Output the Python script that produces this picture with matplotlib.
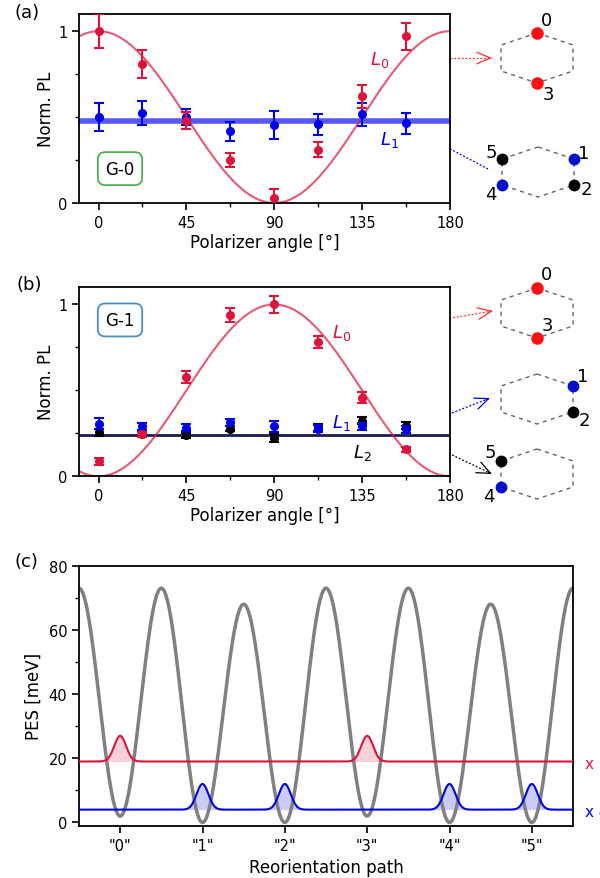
import matplotlib.pyplot as plt
import numpy as np

# ---- data (a) G-0 ----
angles = [0, 22.5, 45, 67.5, 90, 112.5, 135, 157.5]
a_L0 = [1.00, 0.81, 0.48, 0.25, 0.03, 0.31, 0.62, 0.97]
a_L0_err = [0.10, 0.08, 0.05, 0.04, 0.05, 0.045, 0.066, 0.08]
a_L1 = [0.50, 0.525, 0.50, 0.417, 0.453, 0.457, 0.516, 0.463]
a_L1_err = [0.083, 0.07, 0.045, 0.055, 0.08, 0.062, 0.068, 0.06]
a_fit_phase = 0.0      # L0 fit: cos^2(theta - phase)
a_L1_level = 0.475

# ---- data (b) G-1 ----
b_L0 = [0.087, 0.245, 0.578, 0.938, 1.00, 0.783, 0.458, 0.157]
b_L0_err = [0.02, 0.015, 0.035, 0.04, 0.05, 0.035, 0.03, 0.015]
b_L1 = [0.307, 0.29, 0.282, 0.315, 0.29, 0.278, 0.29, 0.274]
b_L1_err = [0.03, 0.02, 0.02, 0.02, 0.03, 0.02, 0.02, 0.02]
b_L2 = [0.257, 0.245, 0.238, 0.276, 0.222, 0.285, 0.323, 0.294]
b_L2_err = [0.02, 0.015, 0.015, 0.015, 0.025, 0.02, 0.02, 0.02]
b_fit_phase = 90.0
b_L12_level = 0.24

# ---- data (c) PES ----
pes_x = [-0.5, 0, 0.5, 1, 1.5, 2, 2.5, 3, 3.5, 4, 4.5, 5, 5.5]
pes_y = [73, 2, 73, 0, 68, 0, 73, 2, 73, 0, 68, 0, 73]
path_labels = ['"0"', '"1"', '"2"', '"3"', '"4"', '"5"']
red_centers = [0, 3]
red_base, red_height = 19, 8
blue_centers = [1, 2, 4, 5]
blue_base, blue_height = 4, 8
bump_sigma = 0.072

RED = "#dc143c"
BLUE = "#0000e6"

fig = plt.figure(figsize=(6, 8.79), dpi=100)
W, H = 600.0, 879.0


def box(l, t, r, b):
    return [l / W, 1 - b / H, (r - l) / W, (b - t) / H]


theta = np.linspace(-10, 180, 400)
ebkw = dict(fmt="o", ms=5.5, capsize=3.5, elinewidth=1.5, capthick=1.5)


def style_pol(ax):
    ax.set_xlim(-10, 180)
    ax.set_ylim(0, 1.1)
    ax.set_xticks([0, 45, 90, 135, 180])
    ax.set_xticks([22.5, 67.5, 112.5, 157.5], minor=True)
    ax.set_yticks([0, 1])
    ax.set_yticklabels(["0", "1"])
    ax.set_yticks([0.25, 0.5, 0.75], minor=True)
    ax.tick_params(labelsize=10.5, width=1.2, length=5)
    ax.tick_params(which="minor", width=1, length=3)
    for s in ax.spines.values():
        s.set_linewidth(1.3)
    ax.set_xlabel("Polarizer angle [°]", fontsize=12, labelpad=2)
    ax.set_ylabel("Norm. PL", fontsize=12, labelpad=2)


# (a)
ax1 = fig.add_axes(box(79, 15, 450, 204))
ax1.axhline(a_L1_level, color="#3a3aff", lw=4, alpha=0.85, zorder=1)
ax1.plot(theta, np.cos(np.radians(theta - a_fit_phase)) ** 2, color=RED, alpha=0.7, lw=1.5, zorder=2)
ax1.errorbar(angles, a_L1, yerr=a_L1_err, color=BLUE, zorder=3, **ebkw)
ax1.errorbar(angles, a_L0, yerr=a_L0_err, color=RED, zorder=4, **ebkw)
style_pol(ax1)
ax1.text(144, 0.84, "$L_0$", color=RED, fontsize=13, ha="center", va="center")
ax1.text(149, 0.37, "$L_1$", color=BLUE, fontsize=13, ha="center", va="center")
ax1.text(11, 0.2, "G-0", fontsize=12, ha="center", va="center",
         bbox=dict(boxstyle="round,pad=0.45", fc="white", ec="#4caf50", lw=1.3))

# (b)
ax2 = fig.add_axes(box(79, 288.3, 450, 477.3))
ax2.axhline(b_L12_level, color="#1c1c4f", lw=2, zorder=1)
ax2.plot(theta, np.cos(np.radians(theta - b_fit_phase)) ** 2, color=RED, alpha=0.7, lw=1.5, zorder=2)
ax2.errorbar(angles, b_L2, yerr=b_L2_err, color="black", zorder=3, **ebkw)
ax2.errorbar(angles, b_L1, yerr=b_L1_err, color=BLUE, zorder=4, **ebkw)
ax2.errorbar(angles, b_L0, yerr=b_L0_err, color=RED, zorder=5, **ebkw)
style_pol(ax2)
ax2.text(124.5, 0.84, "$L_0$", color=RED, fontsize=13, ha="center", va="center")
ax2.text(124.5, 0.315, "$L_1$", color=BLUE, fontsize=13, ha="center", va="center")
ax2.text(135, 0.14, "$L_2$", color="black", fontsize=13, ha="center", va="center")
ax2.text(11, 0.91, "G-1", fontsize=12, ha="center", va="center",
         bbox=dict(boxstyle="round,pad=0.45", fc="white", ec="#4a90c0", lw=1.3))

# (c)
ax3 = fig.add_axes(box(79, 566.7, 573, 826.7))
xs = np.linspace(-0.5, 5.5, 1200)
pes = np.zeros_like(xs)
for i in range(len(pes_x) - 1):
    m = (xs >= pes_x[i]) & (xs <= pes_x[i + 1])
    t = (xs[m] - pes_x[i]) / (pes_x[i + 1] - pes_x[i])
    pes[m] = pes_y[i] + (pes_y[i + 1] - pes_y[i]) * (1 - np.cos(np.pi * t)) / 2
ax3.plot(xs, pes, color="gray", lw=2.5, zorder=2)

red_wf = red_base + sum(red_height * np.exp(-(xs - c) ** 2 / (2 * bump_sigma ** 2)) for c in red_centers)
blue_wf = blue_base + sum(blue_height * np.exp(-(xs - c) ** 2 / (2 * bump_sigma ** 2)) for c in blue_centers)
ax3.fill_between(xs, red_base, red_wf, color=RED, alpha=0.2, lw=0)
ax3.fill_between(xs, blue_base, blue_wf, color=BLUE, alpha=0.2, lw=0)
ax3.plot(xs, red_wf, color=RED, lw=1.5, zorder=3)
ax3.plot(xs, blue_wf, color=BLUE, lw=1.5, zorder=3)
ax3.set_xlim(-0.5, 5.5)
ax3.set_ylim(-1, 80)
ax3.set_xticks(range(len(path_labels)))
ax3.set_xticklabels(path_labels)
ax3.set_yticks([0, 20, 40, 60, 80])
ax3.set_yticks([10, 30, 50, 70], minor=True)
ax3.tick_params(labelsize=10.5, width=1.2, length=5)
ax3.tick_params(which="minor", width=1, length=3)
for s in ax3.spines.values():
    s.set_linewidth(1.3)
ax3.set_xlabel("Reorientation path", fontsize=12, labelpad=4)
ax3.set_ylabel("PES [meV]", fontsize=12, labelpad=4)

# panel letters
fig.text(15 / W, 1 - 13 / H, "(a)", fontsize=13, va="center")
fig.text(17 / W, 1 - 285 / H, "(b)", fontsize=13, va="center")
fig.text(15 / W, 1 - 562 / H, "(c)", fontsize=13, va="center")
# scale factors, cut at the right edge as in the original
fig.text(585 / W, 1 - 765 / H, "x 2", color=RED, fontsize=11, va="center")
fig.text(585 / W, 1 - 813 / H, "x 4", color=BLUE, fontsize=11, va="center")

# overlay for hexagon sketches and arrows (pixel coordinates)
ov = fig.add_axes([0, 0, 1, 1], zorder=-1)
ov.set_xlim(0, W)
ov.set_ylim(H, 0)
ov.axis("off")

site_color = {0: "#ff1010", 3: "#ff1010", 1: "#0010cc", 4: "#0010cc", 2: "black", 5: "black"}


def hexagon(cx, cy, sites, offsets):
    verts = [(cx, cy - 25), (cx + 36, cy - 13), (cx + 36, cy + 13),
             (cx, cy + 25), (cx - 36, cy + 13), (cx - 36, cy - 13)]
    px = [v[0] for v in verts] + [verts[0][0]]
    py = [v[1] for v in verts] + [verts[0][1]]
    ov.plot(px, py, color="#666666", lw=1, ls=(0, (3, 3)))
    for s, (dx, dy) in zip(sites, offsets):
        x, y = verts[s]
        ov.plot(x, y, "o", color=site_color[s], ms=8 if s in (0, 3) else 7.5)
        ov.text(x + dx, y + dy, str(s), fontsize=13, ha="center", va="center")


hexagon(537, 59, [0, 3], [(10, -13), (11, 11)])
hexagon(538, 173, [1, 2, 4, 5], [(10, -6), (12, 4), (-11, 9), (-11, -7)])
hexagon(537, 314, [0, 3], [(10, -14), (10, -13)])
hexagon(537, 400, [1, 2], [(10, -10), (11, 8)])
hexagon(537, 475, [5, 4], [(-11, -9), (-12, 9)])


def arrow(x0, y0, x1, y1, c):
    ov.plot([x0, x1], [y0, y1], color=c, lw=0.9, ls=(0, (1.5, 1.5)))
    d = np.hypot(x1 - x0, y1 - y0)
    bx, by = x1 - (x1 - x0) / d * 4, y1 - (y1 - y0) / d * 4
    ov.annotate("", xy=(x1, y1), xytext=(bx, by),
                arrowprops=dict(arrowstyle="->,head_length=0.7,head_width=0.3",
                                color=c, lw=0.9, mutation_scale=14,
                                shrinkA=0, shrinkB=0))


arrow(420, 59, 492, 59, "#ff3030")
arrow(488, 170, 422, 135, BLUE)
arrow(357, 335, 493, 312, "#ff3030")
arrow(424, 425, 490, 399, BLUE)
arrow(425, 443, 492, 475, "black")

fig.savefig("out.png", dpi=100)
